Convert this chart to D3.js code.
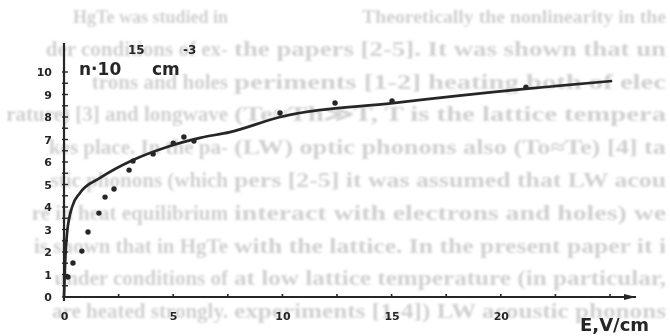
<!DOCTYPE html>
<html><head><meta charset="utf-8">
<script src="https://cdn.jsdelivr.net/npm/d3@7"></script>
<style>html,body{margin:0;padding:0;background:#fff;}svg{display:block;}</style>
</head><body>
<script>
// ---- data ----
const xTickValues = [0, 5, 10, 15, 20];
const xTickLabels = ["0", "5", "10", "15", "20"];
const yTickValues = [0, 1, 2, 3, 4, 5, 6, 7, 8, 9, 10];
const yTickLabels = ["0", "1", "2", "3", "4", "5", "6", "7", "8", "9", "10"];
// fitted curve (E in V/cm, n in 1e15 cm^-3)
const curveE = [0, 0.05, 0.14, 0.37, 0.73, 1.65, 3.16, 4.72, 6.23, 7.6, 9.9, 15.06, 21.0, 25.1];
const curveN = [0, 1.5, 2.84, 4.0, 4.62, 5.29, 6.09, 6.67, 7.07, 7.33, 8.0, 8.62, 9.24, 9.6];
// measured points
const dotE = [0.18, 0.41, 0.82, 1.10, 1.60, 1.88, 2.29, 2.98, 3.16, 4.08, 5.0, 5.49, 5.95, 9.89, 12.41, 15.02, 21.15];
const dotN = [0.89, 1.51, 2.04, 2.89, 3.73, 4.44, 4.80, 5.64, 6.04, 6.36, 6.84, 7.11, 6.93, 8.18, 8.62, 8.71, 9.33];
// faint bleed-through text of the scanned page (each printed line appears split: start at right, end at left)
const pageRight = [
  "Theoretically the nonlinearity in the",
  "the papers [2-5]. It was shown that un",
  "periments [1-2] heating both of elec",
  "(Te\u2248Th\u226BT, T is the lattice tempera",
  "(LW) optic phonons also (To\u2248Te) [4] ta",
  "pers [2-5] it was assumed that LW acou",
  "interact with electrons and holes) we",
  "with the lattice. In the present paper it i",
  "at low lattice temperature (in particular,",
  "experiments [1-4]) LW acoustic phonons"
];
const pageLeft = [
  "HgTe was studied in",
  "der conditions of ex-",
  "trons and holes",
  "rature) [3] and longwave",
  "kes place. In the pa-",
  "stic phonons (which",
  "re in heat equilibrium",
  "is shown that in HgTe",
  "under conditions of",
  "are heated strongly."
];

const W = 670, H = 336;
const svg = d3.select("body").append("svg").attr("width", W).attr("height", H);
const defs = svg.append("defs");
defs.append("filter").attr("id", "blurA").append("feGaussianBlur").attr("stdDeviation", 0.7);
defs.append("filter").attr("id", "blurB").append("feGaussianBlur").attr("stdDeviation", 0.9);

// background page text
const bg = svg.append("g").attr("filter", "url(#blurB)")
  .attr("font-family", "Liberation Serif, serif").attr("font-size", 21).attr("font-weight", "bold")
  .attr("fill", "#d0d0d0");
const rowStep = 32.8, rowBase0 = 23;
pageRight.forEach((t, i) => {
  const x0 = i === 0 ? 362 : 234;
  bg.append("text").attr("x", x0).attr("y", rowBase0 + i * rowStep).text(t)
    .attr("font-size", i === 0 ? 18 : null)
    .attr("textLength", 666 - x0).attr("lengthAdjust", "spacingAndGlyphs");
});
pageLeft.forEach((t, i) => {
  bg.append("text").attr("x", 228).attr("y", rowBase0 + i * rowStep)
    .attr("font-size", i === 0 ? 18 : null)
    .attr("text-anchor", "end").text(t);
});

const x = d3.scaleLinear().domain([0, 25]).range([64, 610]);
const y = d3.scaleLinear().domain([0, 10]).range([297, 72]);
const ink = "#262626";
const g = svg.append("g").attr("filter", "url(#blurA)");

// axis lines
g.append("line").attr("x1", x(0)).attr("x2", 636).attr("y1", y(0)).attr("y2", y(0))
  .attr("stroke", ink).attr("stroke-width", 2.2);
g.append("path").attr("d", `M636,${y(0)} l-12,-3 l0,6 z`).attr("fill", ink);
g.append("line").attr("x1", x(0)).attr("x2", x(0)).attr("y1", y(0) + 4).attr("y2", 43)
  .attr("stroke", ink).attr("stroke-width", 2.2);

// x axis
const xAxis = d3.axisBottom(x).tickValues(xTickValues).tickFormat((d, i) => xTickLabels[i]).tickSize(0).tickPadding(15);
const xa = g.append("g").attr("transform", `translate(0,${y(0)})`).call(xAxis);
xa.select(".domain").remove();
xa.selectAll("text").attr("font-family", "DejaVu Sans, sans-serif").attr("font-weight", "bold").attr("font-size", 11).attr("fill", ink);
g.selectAll(".xt").data(d3.range(0, 27.5, 2.5)).join("line").attr("class", "xt")
  .attr("x1", d => x(d)).attr("x2", d => x(d)).attr("y1", y(0) - 3).attr("y2", y(0))
  .attr("stroke", ink).attr("stroke-width", 1.6);

// y axis
const yAxis = d3.axisLeft(y).tickValues(yTickValues).tickFormat((d, i) => yTickLabels[i]).tickSize(0).tickPadding(12);
const ya = g.append("g").attr("transform", `translate(${x(0)},0)`).call(yAxis);
ya.select(".domain").remove();
ya.selectAll("text").attr("font-family", "DejaVu Sans, sans-serif").attr("font-weight", "bold").attr("font-size", 11).attr("fill", ink);
g.selectAll(".yt").data(d3.range(0, 10.5, 0.5)).join("line").attr("class", "yt")
  .attr("x1", x(0) - 2).attr("x2", x(0) + 4).attr("y1", d => y(d)).attr("y2", d => y(d))
  .attr("stroke", ink).attr("stroke-width", 1.4);

// curve
const pts = curveE.map((e, i) => [e, curveN[i]]);
g.append("path").datum(pts)
  .attr("d", d3.line().x(d => x(d[0])).y(d => y(d[1])).curve(d3.curveMonotoneX))
  .attr("fill", "none").attr("stroke", ink).attr("stroke-width", 2.7);

// dots
g.selectAll(".dot").data(dotE.map((e, i) => [e, dotN[i]])).join("circle").attr("class", "dot")
  .attr("cx", d => x(d[0])).attr("cy", d => y(d[1])).attr("r", 2.7).attr("fill", ink);

// axis titles
const tf = "DejaVu Sans, sans-serif";
g.append("text").attr("x", 79).attr("y", 75).attr("font-family", tf).attr("font-weight", "bold")
  .attr("font-size", 17).attr("fill", ink).text("n\u00B710");
g.append("text").attr("x", 128).attr("y", 54).attr("font-family", tf).attr("font-weight", "bold")
  .attr("font-size", 12).attr("fill", ink).text("15");
g.append("text").attr("x", 152).attr("y", 75).attr("font-family", tf).attr("font-weight", "bold")
  .attr("font-size", 17).attr("fill", ink).text("cm");
g.append("text").attr("x", 183).attr("y", 54).attr("font-family", tf).attr("font-weight", "bold")
  .attr("font-size", 12).attr("fill", ink).text("-3");

g.append("text").attr("x", 580).attr("y", 331).attr("font-family", tf)
  .attr("font-weight", "bold").attr("font-size", 18).attr("fill", ink).text("E,V/cm");
</script>
</body></html>
